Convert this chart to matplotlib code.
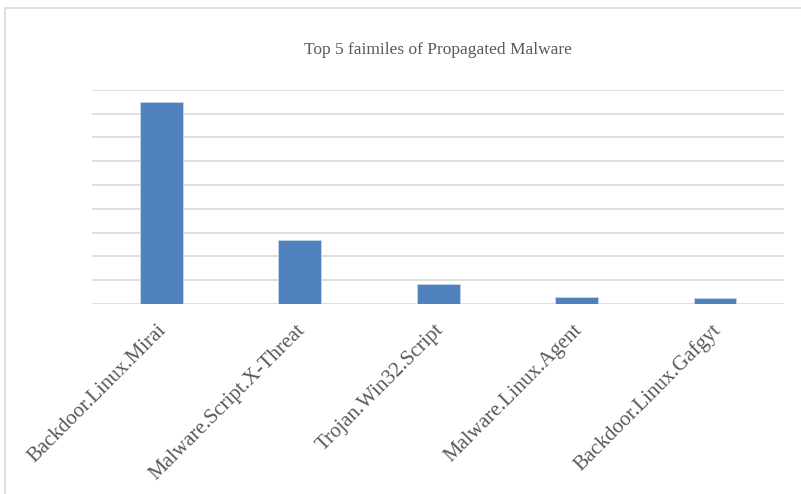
import matplotlib
matplotlib.use('Agg')
import matplotlib.pyplot as plt
import matplotlib.transforms as mtransforms
from matplotlib.patches import Rectangle

families = ['Backdoor.Linux.Mirai', 'Malware.Script.X-Threat', 'Trojan.Win32.Script',
            'Malware.Linux.Agent', 'Backdoor.Linux.Gafgyt']
counts = [8.49, 2.69, 0.83, 0.28, 0.26]

plt.rcParams['font.family'] = ['Liberation Serif', 'DejaVu Serif']

fig = plt.figure(figsize=(8.01, 4.94), dpi=100)
ax = fig.add_axes([0.1149, 0.3846, 0.979 - 0.1149, 0.8184 - 0.3846])

# chart area border (only top/left visible in the original crop)
fig.patches.append(Rectangle((5 / 801, -0.1), 1.2, 1 - 8 / 494 + 0.1, transform=fig.transFigure,
                             fill=False, edgecolor='#D9D9D9', linewidth=1.2))

x = range(len(families))
ax.bar(x, counts, width=0.31, color='#4F81BD', edgecolor='#C6D6EA', linewidth=0.6, zorder=3)

ax.set_xlim(-0.5, len(families) - 0.5)
ax.set_ylim(0, 9)
ax.set_yticks(range(0, 10))
ax.set_yticklabels([])
ax.tick_params(axis='y', length=0)
ax.tick_params(axis='x', length=0, pad=12)
ax.yaxis.grid(True, color='#D9D9D9', linewidth=1.2, zorder=0)
for s in ax.spines.values():
    s.set_visible(False)

ax.set_xticks(list(x))
ax.set_xticklabels(families, rotation=45, ha='right', rotation_mode='anchor',
                   fontsize=15, color='#595959')
shift = mtransforms.ScaledTranslation(-4 / 100, 0, fig.dpi_scale_trans)
for lbl in ax.get_xticklabels():
    lbl.set_transform(lbl.get_transform() + shift)

fig.text(0.547, 1 - 50 / 494, 'Top 5 faimiles of Propagated Malware', ha='center', va='center',
         fontsize=12.5, color='#595959')

fig.savefig('out.png', dpi=100)
